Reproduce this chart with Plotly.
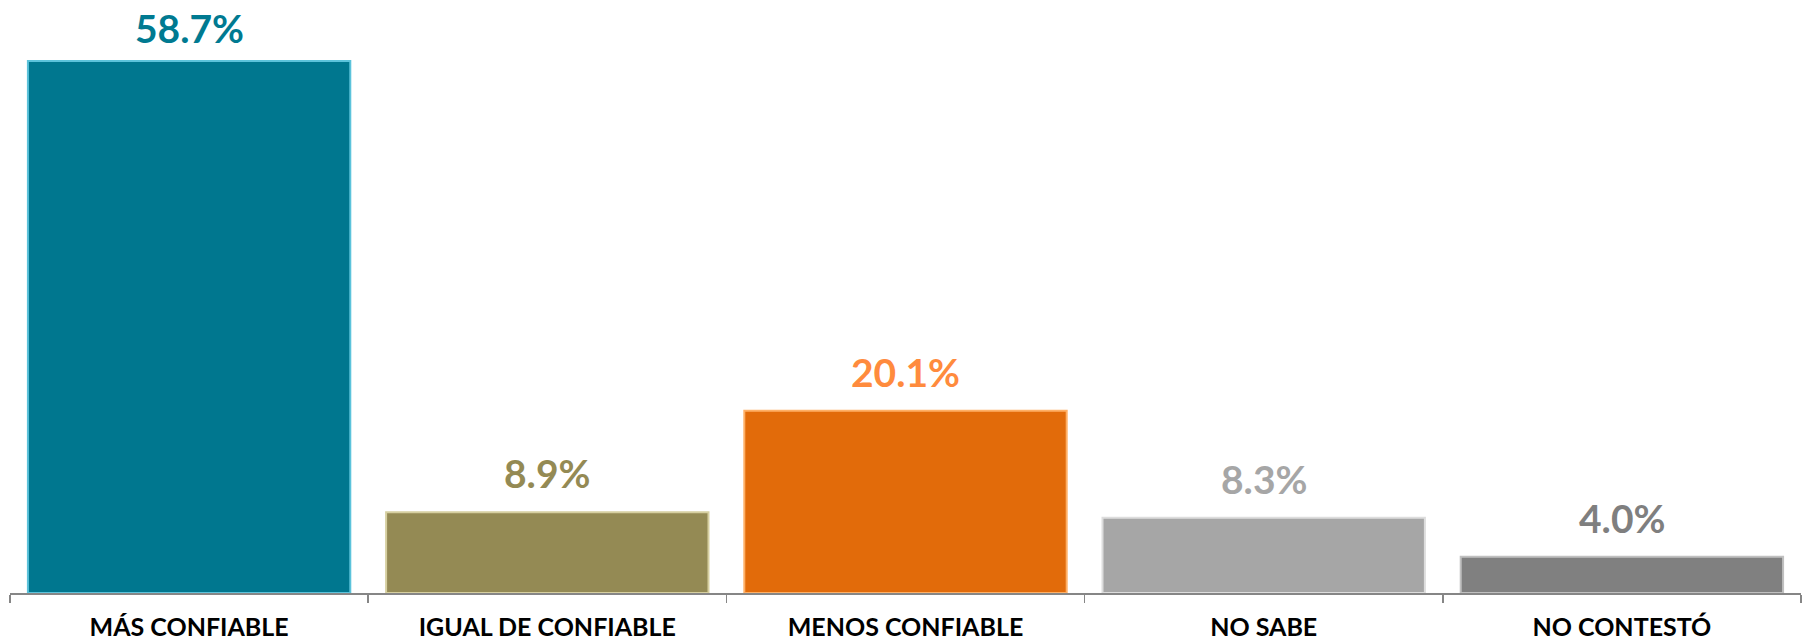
import plotly.graph_objects as go

categories = ["MÁS CONFIABLE", "IGUAL DE CONFIABLE", "MENOS CONFIABLE", "NO SABE", "NO CONTESTÓ"]
values = [58.7, 8.9, 20.1, 8.3, 4.0]
value_labels = ["58.7%", "8.9%", "20.1%", "8.3%", "4.0%"]

bar_colors = ["#00778F", "#948A54", "#E26B0A", "#A6A6A6", "#808080"]
edge_colors = ["#5CC3DB", "#D6CFA0", "#FFB066", "#DDDDDD", "#C0C0C0"]
label_colors = ["#007A91", "#948A54", "#FF8B3D", "#A6A6A6", "#7F7F7F"]

fig = go.Figure()
fig.add_trace(go.Bar(
    x=categories, y=values,
    marker=dict(color=bar_colors, line=dict(color=edge_colors, width=2)),
    hoverinfo="skip",
))

vmax = max(values)
for c, v, t, col in zip(categories, values, value_labels, label_colors):
    # the tallest label sits a little closer to its bar (it is pressed against the top edge)
    fig.add_annotation(x=c, y=v, text=f"<b>{t}</b>", showarrow=False,
                       yanchor="bottom", yshift=8 if v == vmax else 14,
                       font=dict(family="Lato", size=39, color=col))

fig.update_layout(
    width=1806, height=642,
    margin=dict(l=10, r=5, t=14, b=49, autoexpand=False),
    paper_bgcolor="white", plot_bgcolor="white",
    bargap=0.10, showlegend=False,
    xaxis=dict(
        automargin=False,
        showline=True, linecolor="#868686", linewidth=1.5,
        ticks="outside", tickson="boundaries", ticklen=8, tickcolor="#868686", tickwidth=1.5,
        ticklabelstandoff=11,
        tickfont=dict(family="Lato", size=25, color="black"),
        tickprefix="<b>", ticksuffix="</b>",
        showgrid=False, fixedrange=True,
    ),
    yaxis=dict(range=[0, 63.9], visible=False, showgrid=False, fixedrange=True, automargin=False),
)

# remove the browser's default 8px body margin so the figure fills the window exactly
fig.write_html("out.html", config={"displayModeBar": False, "staticPlot": True},
               post_script="document.body.style.margin='0';document.body.style.overflow='hidden';")
